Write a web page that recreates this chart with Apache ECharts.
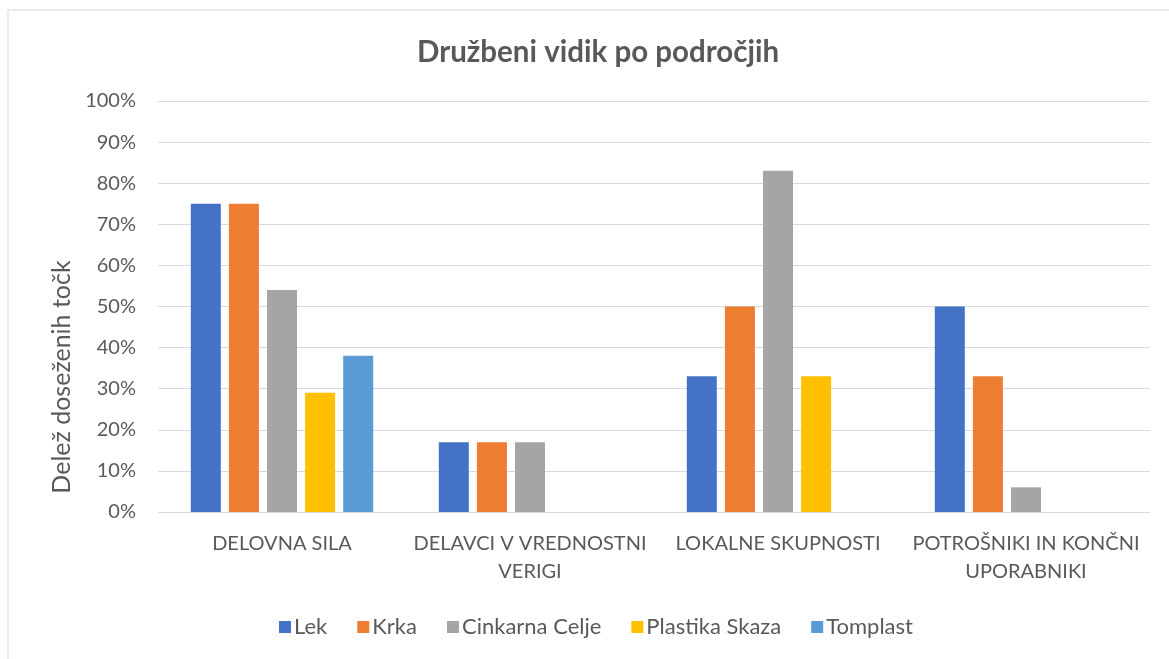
<!DOCTYPE html>
<html>
<head>
<meta charset="utf-8">
<script src="https://cdn.jsdelivr.net/npm/echarts@6/dist/echarts.min.js"></script>
<style>
html, body { margin: 0; padding: 0; background: #fff; }
#bar-charts { width: 1169px; height: 659px; }
</style>
</head>
<body>
<div id="bar-charts"></div>
<script>
// podatki (delež doseženih točk v %)
let categories = ['DELOVNA SILA', 'DELAVCI V VREDNOSTNI\nVERIGI', 'LOKALNE SKUPNOSTI', 'POTROŠNIKI IN KONČNI\nUPORABNIKI']
let lek = [75, 17, 33, 50]
let krka = [75, 17, 50, 33]
let cinkarna = [54, 17, 83, 6]
let skaza = [29, 0, 33, 0]
let tomplast = [38, 0, 0, 0]
let seriesNames = ['Lek', 'Krka', 'Cinkarna Celje', 'Plastika Skaza', 'Tomplast']
let colors = ['#4472C4', '#ED7D31', '#A5A5A5', '#FFC000', '#5B9BD5']

const font = 'Lato, "Open Sans", sans-serif'
const textColor = '#595959'

function makeSeries(name, data) {
    return {
        name: name,
        type: 'bar',
        barWidth: 30,
        barGap: '27%',
        data: data
    }
}

let charts = echarts.init(document.getElementById('bar-charts'))
let config = {
    color: colors,
    animation: false,
    textStyle: { fontFamily: font },
    title: {
        text: 'Družbeni vidik po področjih',
        left: 412,
        top: 32,
        textStyle: { fontFamily: font, fontSize: 29.5, fontWeight: 'bold', color: textColor }
    },
    graphic: [
        {
            type: 'rect',
            shape: { x: 8, y: 10, width: 1300, height: 800 },
            style: { fill: 'none', stroke: '#d9d9d9', lineWidth: 1 },
            silent: true
        },
        {
            type: 'text',
            x: 62,
            y: 377,
            rotation: Math.PI / 2,
            style: {
                text: 'Delež doseženih točk',
                fontFamily: font,
                fontSize: 25,
                fill: textColor,
                textAlign: 'center',
                textVerticalAlign: 'middle'
            }
        }
    ],
    legend: {
        data: seriesNames,
        bottom: 16,
        left: 274,
        itemWidth: 12,
        itemHeight: 12,
        itemGap: 30,
        icon: 'rect',
        textStyle: { fontFamily: font, fontSize: 22, color: textColor, padding: [0, 0, 0, -2] }
    },
    grid: {
        left: 158,
        right: 19,
        top: 101,
        bottom: 147
    },
    xAxis: {
        type: 'category',
        data: categories,
        axisLine: { lineStyle: { color: '#d9d9d9', width: 1 } },
        axisTick: { show: false },
        axisLabel: {
            fontFamily: font,
            fontSize: 20,
            color: textColor,
            margin: 18,
            lineHeight: 28,
            interval: 0
        }
    },
    yAxis: {
        type: 'value',
        min: 0,
        max: 100,
        interval: 10,
        axisLine: { show: false },
        axisTick: { show: false },
        splitLine: { lineStyle: { color: '#d9d9d9', width: 1 } },
        axisLabel: {
            fontFamily: font,
            fontSize: 20,
            color: textColor,
            margin: 22,
            formatter: '{value}%'
        }
    },
    series: [
        makeSeries('Lek', lek),
        makeSeries('Krka', krka),
        makeSeries('Cinkarna Celje', cinkarna),
        makeSeries('Plastika Skaza', skaza),
        makeSeries('Tomplast', tomplast)
    ]
}
charts.setOption(config)
window.addEventListener('resize', () => charts.resize())
</script>
</body>
</html>
